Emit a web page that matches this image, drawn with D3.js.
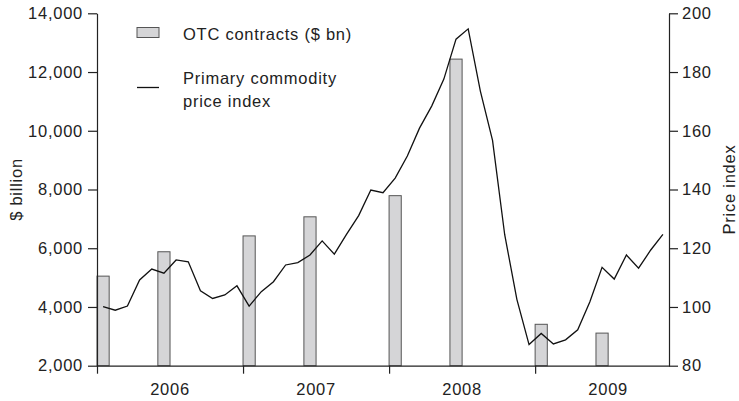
<!DOCTYPE html>
<html>
<head>
<meta charset="utf-8">
<script src="https://cdn.jsdelivr.net/npm/d3@7"></script>
<style>
  body { margin: 0; background: #fff; }
  svg { display: block; font-family: "Liberation Sans", Arial, sans-serif; }
  svg text { font-size: 16.5px; fill: #222; letter-spacing: 0.75px; }
  .axis path, .axis line { stroke: #222; stroke-width: 1.2px; }
</style>
</head>
<body>
<div id="chart"></div>
<script>
// OTC commodity contracts outstanding, $ bn (half-yearly)
let otcPeriods = ["2006-01", "2006-06", "2007-01", "2007-06", "2008-01", "2008-06", "2009-01", "2009-06"];
let otcValues = [5050, 5880, 6420, 7070, 7790, 12440, 3410, 3110];

// primary commodity price index, monthly from Jan 2006
let priceStart = "2006-01";
let priceIndex = [
  100.1, 98.9, 100.3, 109.2, 112.9, 111.5, 116.0, 115.4, 105.5, 102.9, 104.1, 107.2,
  100.3, 105.2, 108.6, 114.3, 115.1, 117.7, 122.5, 118.0, 124.7, 131.1, 139.8, 138.9,
  143.9, 151.4, 160.9, 168.4, 177.6, 191.2, 194.7, 173.5, 156.7, 124.6, 102.6, 87.2,
  91.0, 87.4, 88.8, 92.2, 101.8, 113.5, 109.5, 117.7, 113.2, 119.4, 124.7
];

let years = ["2006", "2007", "2008", "2009"];
let leftTicks = [2000, 4000, 6000, 8000, 10000, 12000, 14000];
let rightTicks = [80, 100, 120, 140, 160, 180, 200];

let width = 739, height = 401;
let plotLeft = 97, plotRight = 669, plotTop = 13.3, plotBottom = 365.7;

// month number counted from Jan 2006
function monthIdx(s) {
  let p = s.split("-");
  return (parseInt(p[0], 10) - 2006) * 12 + parseInt(p[1], 10) - 1;
}

let svg = d3.select("#chart").append("svg").attr("width", width).attr("height", height);

let x = d3.scaleLinear().domain([0, 47]).range([plotLeft, plotRight]);
let yL = d3.scaleLinear().domain([2000, 14000]).range([plotBottom, plotTop]);
let yR = d3.scaleLinear().domain([80, 200]).range([plotBottom, plotTop]);

// bars
svg.append("g").selectAll("rect")
  .data(otcValues)
  .join("rect")
  .attr("x", (d, i) => x(monthIdx(otcPeriods[i])))
  .attr("width", (d, i) => x(monthIdx(otcPeriods[i]) + 1) - x(monthIdx(otcPeriods[i])))
  .attr("y", d => yL(d))
  .attr("height", d => plotBottom - yL(d))
  .attr("fill", "#d5d5d7")
  .attr("stroke", "#555")
  .attr("stroke-width", 1);

// price line at month centres
let m0 = monthIdx(priceStart);
let line = d3.line()
  .x((d, i) => x(m0 + i + 0.5))
  .y(d => yR(d));

svg.append("path")
  .datum(priceIndex)
  .attr("d", line)
  .attr("fill", "none")
  .attr("stroke", "#111")
  .attr("stroke-width", 1.3);

// axes
svg.append("g").attr("class", "axis")
  .attr("transform", `translate(${plotLeft},0)`)
  .call(d3.axisLeft(yL).tickValues(leftTicks).tickFormat(d3.format(",")).tickSize(9).tickSizeOuter(0).tickPadding(5));

svg.append("g").attr("class", "axis")
  .attr("transform", `translate(${plotRight},0)`)
  .call(d3.axisRight(yR).tickValues(rightTicks).tickSize(9).tickSizeOuter(0).tickPadding(4));

svg.append("g").attr("class", "axis")
  .attr("transform", `translate(0,${plotBottom})`)
  .call(d3.axisBottom(x).tickValues(years.map((y, i) => i * 12)).tickFormat("").tickSize(8).tickSizeOuter(0));

svg.selectAll(".axis text").style("font-size", null).attr("font-size", null).attr("font-family", null);

svg.append("g").selectAll("text")
  .data(years)
  .join("text")
  .attr("x", (d, i) => x(i * 12 + 6))
  .attr("y", 394.5)
  .attr("text-anchor", "middle")
  .text(d => d);

// axis titles
svg.append("text")
  .attr("transform", "translate(22,189.5) rotate(-90)")
  .attr("text-anchor", "middle")
  .text("$ billion");

svg.append("text")
  .attr("transform", "translate(735,189.5) rotate(-90)")
  .attr("text-anchor", "middle")
  .text("Price index");

// legend
let legend = svg.append("g");
legend.append("rect").attr("x", 137).attr("y", 27.5).attr("width", 22).attr("height", 10)
  .attr("fill", "#d5d5d7").attr("stroke", "#555").attr("stroke-width", 1);
legend.append("text").attr("x", 183).attr("y", 39.5).text("OTC contracts ($ bn)");
legend.append("line").attr("x1", 137).attr("x2", 159).attr("y1", 87.5).attr("y2", 87.5)
  .attr("stroke", "#111").attr("stroke-width", 1.3);
legend.append("text").attr("x", 183).attr("y", 83.5).text("Primary commodity");
legend.append("text").attr("x", 183).attr("y", 106.5).text("price index");
</script>
</body>
</html>
